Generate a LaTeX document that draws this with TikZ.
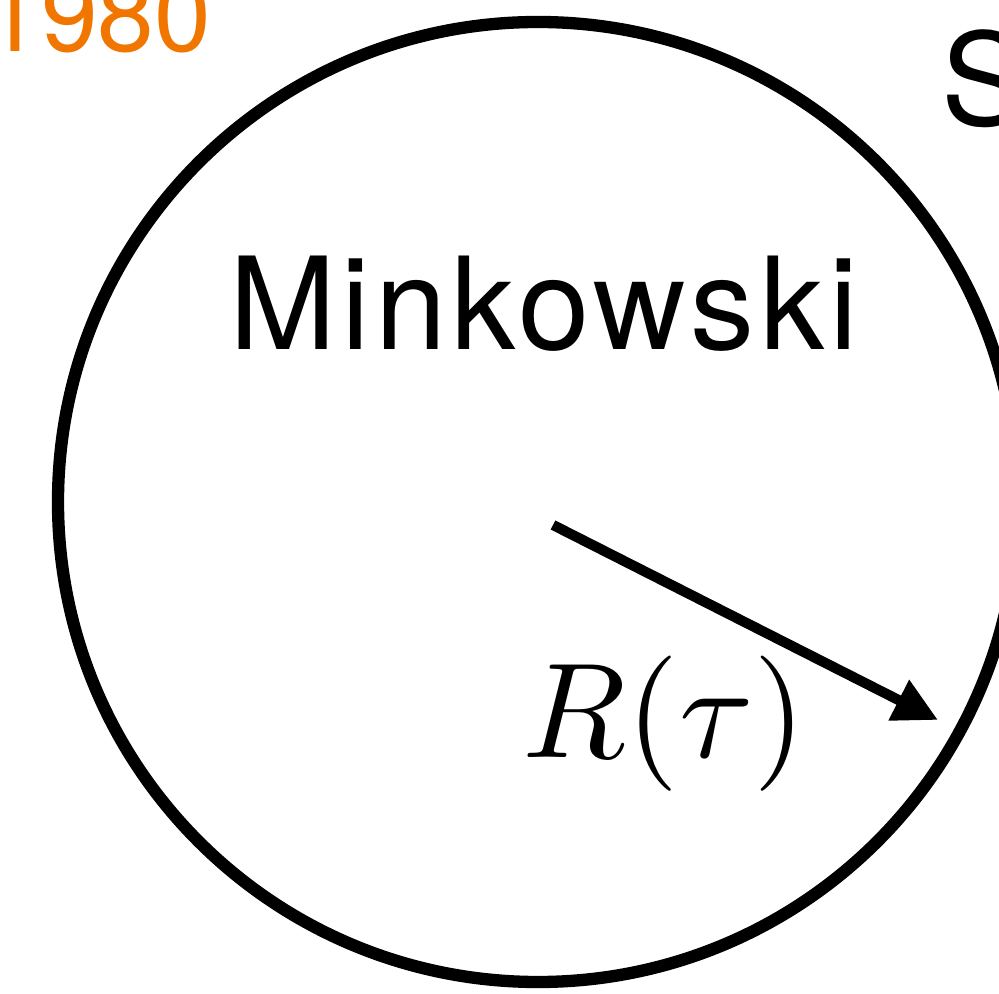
\documentclass[tikz,border=0pt]{standalone}
\usepackage{fontspec}
\setmainfont{TeX Gyre Heros}
\usepackage{tikz}
\usetikzlibrary{arrows.meta, positioning}
\definecolor{yearorange}{RGB}{240,118,0}
% scalable CM math fonts
\DeclareFontShape{OML}{cmm}{m}{it}{<->cmmi10}{}
\DeclareFontShape{OT1}{cmr}{m}{n}{<->cmr10}{}
\DeclareFontShape{OMS}{cmsy}{m}{n}{<->cmsy10}{}

\begin{document}
\begin{tikzpicture}[
  >={Triangle[length=0.44cm, width=0.43cm]},
  bigtext/.style={font=\fontsize{36.5}{44}\selectfont, inner sep=0pt},
]

\useasboundingbox (0,0) rectangle (9.99,-9.94);

% --- Minkowski disc ---
\coordinate (centre) at (5.38,-5.02);
\draw[line width=3.5pt] (centre) circle (4.80);

% --- Labels ---
\node[bigtext, anchor=base west] (mink) at (2.29,-3.50) {\addfontfeature{LetterSpace=4}Minkowski};
\node[bigtext, anchor=base west] (sfrag) at (9.41,-1.26) {S};
\node[bigtext, anchor=base east, yearorange, font=\fontsize{29}{35}\selectfont] (year) at (2.12,-0.52) {1980};

% --- Radius ---
\coordinate (rstart) at (5.53,-5.25);
\coordinate (rtip) at (9.38,-7.20);
\draw[->, line width=2.9pt] (rstart) -- (rtip);
\node[bigtext, anchor=base west, font=\fontsize{38.5}{46}\selectfont] (radius) at (5.22,-7.57) {$R(\tau)$};

\end{tikzpicture}
\end{document}
